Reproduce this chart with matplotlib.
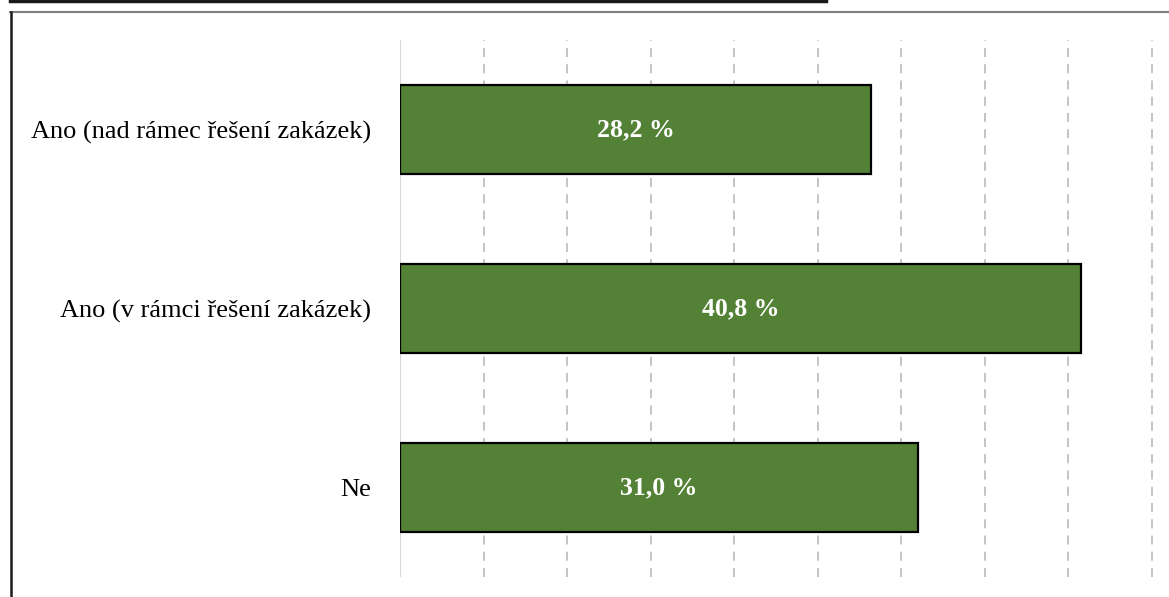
import matplotlib.pyplot as plt
from matplotlib.lines import Line2D

categories = ['Ano (nad rámec řešení zakázek)', 'Ano (v rámci řešení zakázek)', 'Ne']
shares = [28.2, 40.8, 31.0]
value_labels = ['28,2 %', '40,8 %', '31,0 %']

plt.rcParams['font.family'] = ['Liberation Serif', 'DejaVu Serif']

W, H = 1169, 597
fig = plt.figure(figsize=(W / 100, H / 100), dpi=100)

# axes: x=0 at px 400, 16.7 px per unit, y from px 40 to 577
x0, ppu = 400, 16.7
xmax = 50
ax = fig.add_axes([x0 / W, (H - 577) / H, xmax * ppu / W, 537 / H])

ypos = list(range(len(categories)))
ax.barh(ypos, shares, height=0.5, color='#538135', edgecolor='black', linewidth=1.6, zorder=3)
for y, v, lab in zip(ypos, shares, value_labels):
    ax.text(v / 2, y, lab, ha='center', va='center', color='white',
            fontsize=18.5, fontweight='bold', zorder=4)

ax.set_xlim(0, xmax)
ax.set_ylim(-0.5, len(categories) - 0.5)
ax.invert_yaxis()
ax.set_yticks(ypos)
ax.set_yticklabels(categories, fontsize=19)
ax.tick_params(axis='y', length=0, pad=21)
ax.set_xticks(range(5, xmax + 1, 5))
ax.tick_params(axis='x', length=0, labelbottom=False)
ax.grid(axis='x', color='#BFBFBF', linestyle=(0, (5, 4)), linewidth=1.3, zorder=0)
ax.axvline(0, color='#D9D9D9', linewidth=1.5, zorder=1)
for s in ax.spines.values():
    s.set_visible(False)

# page frame fragments around the cropped chart
fig.add_artist(Line2D([10 / W, 826 / W], [1 - 1 / H, 1 - 1 / H], color='#1a1a1a', linewidth=2.5))
fig.add_artist(Line2D([10 / W, 1.0], [1 - 12 / H, 1 - 12 / H], color='#7f7f7f', linewidth=1.5))
fig.add_artist(Line2D([10.5 / W, 10.5 / W], [0, 1 - 12 / H], color='#1a1a1a', linewidth=1.8))

fig.savefig('out.png', dpi=100)
